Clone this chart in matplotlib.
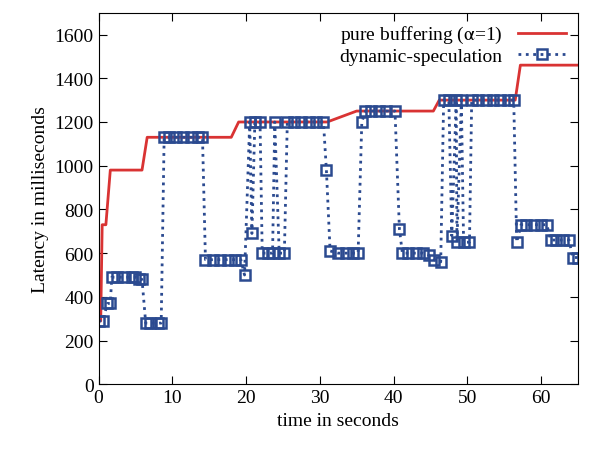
import matplotlib
matplotlib.use("Agg")
import matplotlib.pyplot as plt

plt.rcParams['font.family'] = ['Liberation Serif', 'DejaVu Serif']
plt.rcParams['mathtext.fontset'] = 'stix'

red_t = [0, 0.3, 0.5, 1.0, 1.6, 5.9, 6.6, 18.0, 19.0, 31.0, 35.0, 45.4, 46.2, 56.5, 57.2, 65]
red_v = [290, 290, 730, 730, 980, 980, 1130, 1130, 1200, 1200, 1250, 1250, 1300, 1300, 1460, 1460]

dyn_t = [0,0.6,1.2,1.6,1.8,2.5,3.5,4.5,5,5.5,5.9,6.4,7,8,8.5,8.9,9.5,10.5,11.5,12.5,13.5,14.1,
         14.5,15.5,16.5,17.5,18.5,19.3,19.8,20.5,20.8,21.2,21.9,22.2,23,23.6,23.9,24.5,25.2,25.6,
         26.5,27.5,28.5,29.5,30.5,30.9,31.4,32.5,33.5,34.5,35.2,35.7,36.2,37,38,39,40.2,40.8,41.2,
         42,43,44,44.8,45.5,46.4,46.8,47.5,47.9,48.5,48.6,49.2,49.5,50.3,50.6,51.5,52.5,53.5,54.5,
         55.5,56.3,56.7,57.3,58,59,60,60.8,61.3,62,63,63.8,64.3,65]
dyn_v = [290,290,370,370,490,490,490,490,490,480,480,280,280,280,280,1130,1130,1130,1130,1130,1130,1130,
         570,570,570,570,570,570,500,1200,690,1200,1200,600,600,600,1200,600,600,1200,
         1200,1200,1200,1200,1200,980,610,600,600,600,600,1200,1250,1250,1250,1250,1250,710,600,
         600,600,600,590,570,560,1300,1300,680,1300,650,1300,650,650,1300,1300,1300,1300,1300,
         1300,1300,650,730,730,730,730,730,660,660,660,660,580,580]

fig, ax = plt.subplots(figsize=(5.97, 4.56), dpi=100)
fig.subplots_adjust(left=0.165, right=0.968, bottom=0.155, top=0.97)
ax.plot(red_t, red_v, color='#d93333', lw=2, label=r'pure buffering ($\mathrm{\alpha}$=1)')
ax.plot(dyn_t, dyn_v, color='#2b4a90', lw=2, ls=':', marker='s', ms=6.5, mfc='none',
        mew=1.8, label='dynamic-speculation')
ax.set_xlim(0, 65)
ax.set_ylim(0, 1700)
ax.set_xticks([0, 10, 20, 30, 40, 50, 60])
ax.set_yticks(range(0, 1601, 200))
ax.tick_params(direction='in', top=True, right=True, labelsize=14, length=6)
ax.set_xlabel('time in seconds', fontsize=14)
ax.set_ylabel('Latency in milliseconds', fontsize=14)
ax.legend(loc='upper right', frameon=False, fontsize=14, handlelength=2.5,
          borderaxespad=0.2, labelspacing=0.1, markerfirst=False)
fig.savefig('out.png')
